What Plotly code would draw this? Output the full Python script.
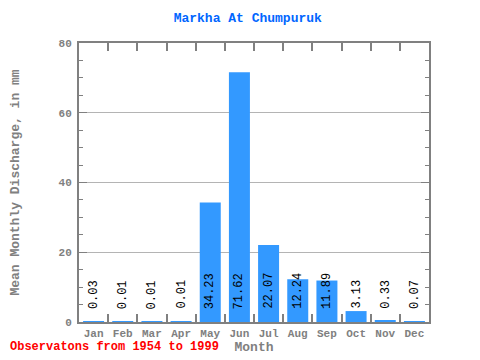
import plotly.graph_objects as go

months = ["Jan", "Feb", "Mar", "Apr", "May", "Jun", "Jul", "Aug", "Sep", "Oct", "Nov", "Dec"]
values = [0.03, 0.01, 0.01, 0.01, 34.23, 71.62, 22.07, 12.24, 11.89, 3.13, 0.33, 0.07]
labels = ["0.03", "0.01", "0.01", "0.01", "34.23", "71.62", "22.07", "12.24", "11.89", "3.13", "0.33", "0.07"]

mono = "Liberation Mono, DejaVu Sans Mono, Courier New, monospace"
gray = "#808080"

fig = go.Figure()
fig.add_trace(go.Bar(x=months, y=values, marker=dict(color="#3399ff", line=dict(width=0)),
                     width=0.72, hoverinfo="skip"))

for m, v, t in zip(months, values, labels):
    fig.add_annotation(x=m, y=0, text=t, textangle=-90, showarrow=False,
                       xanchor="center", yanchor="bottom", yshift=11,
                       font=dict(family=mono, size=12, color="black"))

fig.add_annotation(x=0, y=0, xref="paper", yref="paper", xshift=-71, yshift=-34,
                   xanchor="left", yanchor="bottom", showarrow=False,
                   text="<b>Observatons from 1954 to 1999</b>",
                   font=dict(family=mono, size=12, color="red"))

fig.update_layout(
    width=472, height=352,
    margin=dict(l=71, r=51, t=35, b=38, autoexpand=False),
    paper_bgcolor="white", plot_bgcolor="white",
    showlegend=False,
    title=dict(text="<b>Markha At Chumpuruk</b>", x=0.508, xanchor="center", y=0.974, yanchor="middle",
               font=dict(family=mono, size=13, color="#0066ff")),
    xaxis=dict(
        automargin=False, tickangle=0,
        showline=True, linecolor=gray, linewidth=2, mirror="ticks",
        ticks="inside", ticklen=8, tickwidth=2, tickcolor=gray, tickson="boundaries",
        showgrid=False, tickfont=dict(family=mono, size=11, color=gray, weight="bold"),
        title=dict(text="<b>Month</b>", font=dict(family=mono, size=13, color=gray), standoff=0),
        range=[-0.5, 11.5],
    ),
    yaxis=dict(
        automargin=False, ticklabelstandoff=3,
        range=[0, 80], dtick=20, showline=True, linecolor=gray, linewidth=2, mirror="ticks",
        ticks="inside", ticklen=8, tickwidth=1, tickcolor=gray,
        showgrid=True, gridcolor="#b4b4b4", gridwidth=1, zeroline=False,
        minor=dict(dtick=5, ticks="inside", ticklen=4, tickcolor=gray, showgrid=False),
        tickfont=dict(family=mono, size=11, color=gray, weight="bold"),
        title=dict(text="<b>Mean Monthly Discharge, in mm</b>", font=dict(family=mono, size=13, color=gray), standoff=36),
    ),
)

fig.write_html("out.html")
